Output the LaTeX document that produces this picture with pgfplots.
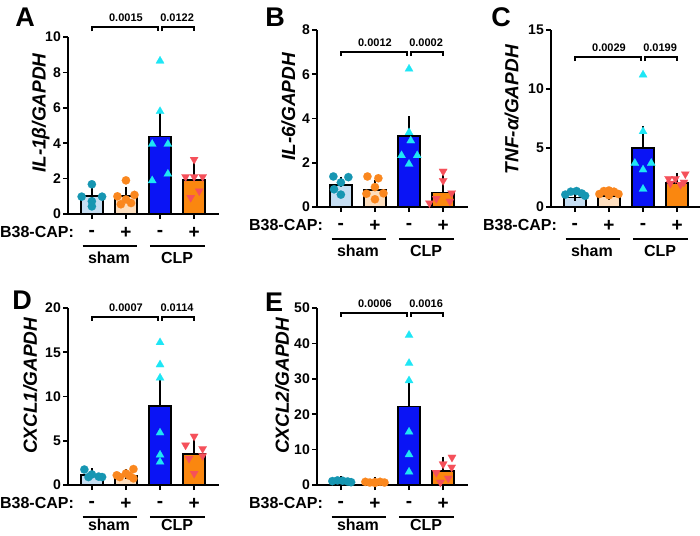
\documentclass[border=0pt]{standalone}
\usepackage{fontspec}
\setmainfont{Liberation Sans}
\usepackage{pgfplots}
\pgfplotsset{compat=1.18}
\definecolor{lblue}{RGB}{198,222,242}
\definecolor{teal}{RGB}{22,150,178}
\definecolor{peach}{RGB}{253,222,190}
\definecolor{orpt}{RGB}{250,135,30}
\definecolor{dblue}{RGB}{10,20,245}
\definecolor{cyanpt}{RGB}{30,230,245}
\definecolor{orbar}{RGB}{250,135,15}
\definecolor{redpt}{RGB}{245,80,90}
\pgfplotsset{
  panel/.style={
    scale only axis, width=151pt, height=177pt, anchor=south west,
    xmin=-0.7, xmax=3.73, ymin=0,
    axis x line*=bottom, axis y line*=left,
    axis line style={line width=1.8pt, -},
    xtick={0,1,2,3}, xticklabels={},
    tick align=outside, major tick length=5pt,
    tick style={line width=1.6pt, black},
    yticklabel style={font=\bfseries\fontsize{14}{14}\selectfont, inner sep=2pt},
    /pgf/number format/assume math mode=true,
    ylabel style={font=\bfseries\itshape\fontsize{19}{19}\selectfont, anchor=center},
    clip=false,
  },
  bst/.style={ybar, bar width=22pt, bar shift=0pt, draw=black, line width=1.8pt, fill=#1,
    error bars/.cd, y dir=plus, y explicit,
    error bar style={line width=1.6pt, black},
    error mark options={line width=1.6pt, mark size=5pt, black}},
  ptc/.style={only marks, mark=*, mark size=4.2pt, color=#1, mark options={fill=#1, draw=#1, line width=0.1pt}},
  ptu/.style={only marks, mark=triangle*, mark size=4.8pt, color=#1, mark options={fill=#1, draw=#1, line width=0.1pt}},
  ptd/.style={only marks, mark=triangle*, mark size=4.8pt, color=#1, mark options={fill=#1, draw=#1, line width=0.1pt, rotate=180}},
}
\tikzset{
  sig/.style={anchor=south, inner sep=0pt, font=\bfseries\fontsize{11}{11}\selectfont},
  lab/.style={inner sep=0pt, font=\bfseries\fontsize{16}{16}\selectfont},
  pm/.style={inner sep=0pt, font=\bfseries\fontsize{19}{19}\selectfont},
  let/.style={inner sep=0pt, font=\bfseries\fontsize{27}{27}\selectfont},
}
\newcommand\decor[4]{%
  \draw[line width=2pt] ([yshift=-4pt]axis cs:0,#1) -- (axis cs:0,#1) -- (axis cs:1.95,#1) -- ([yshift=-4pt]axis cs:1.95,#1);
  \draw[line width=2pt] ([yshift=-4pt]axis cs:2.05,#1) -- (axis cs:2.05,#1) -- (axis cs:3,#1) -- ([yshift=-4pt]axis cs:3,#1);
  \node[sig] at ([yshift=5pt]axis cs:1,#1) {#2};
  \node[sig] at ([yshift=5pt]axis cs:2.5,#1) {#3};
  \node[lab, anchor=east] at ([yshift=-18pt]axis cs:-0.52,0) {B38-CAP:};
  \node[pm] at ([yshift=-19pt]axis cs:0,0) {-};
  \node[pm] at ([yshift=-19pt]axis cs:1,0) {+};
  \node[pm] at ([yshift=-19pt]axis cs:2,0) {-};
  \node[pm] at ([yshift=-19pt]axis cs:3,0) {+};
  \draw[line width=2pt] ([yshift=-32pt]axis cs:-0.27,0) -- ([yshift=-32pt]axis cs:1.33,0);
  \draw[line width=2pt] ([yshift=-32pt]axis cs:1.7,0) -- ([yshift=-32pt]axis cs:3.32,0);
  \node[lab] at ([yshift=#4]axis cs:0.5,0) {sham};
  \node[lab] at ([yshift=#4]axis cs:2.5,0) {CLP};
}
\begin{document}
\begin{tikzpicture}
\useasboundingbox (0pt,0pt) rectangle (700pt,-535pt);
% ---------- A ----------
\begin{axis}[panel, at={(68pt,-214pt)}, ymax=10, ytick={0,2,4,6,8,10},
  ylabel={IL-1β/GAPDH}, ylabel style={at={(axis description cs:-0.18,0.57)}}]
\addplot[bst=lblue] coordinates {(0,1.0) +- (0,0.21)};
\addplot[bst=peach] coordinates {(1,1.02) +- (0,0.25)};
\addplot[bst=dblue] coordinates {(2,4.38) +- (0,1.06)};
\addplot[bst=orbar] coordinates {(3,1.9) +- (0,0.77)};
\addplot[ptc=teal] coordinates {(0,1.68) (-0.3,0.98) (0.3,0.98) (0,0.72) (0,0.43)};
\addplot[ptc=orpt] coordinates {(1,1.9) (0.75,1.0) (1.25,1.08) (1,0.82) (0.85,0.55) (1.15,0.62)};
\addplot[ptu=cyanpt] coordinates {(2,8.65) (2,5.8) (1.77,3.95) (2.23,3.95) (2.23,2.26) (1.77,1.89)};
\addplot[ptd=redpt] coordinates {(3,3.08) (2.75,2.1) (3,2.1) (3.25,2.1) (3.15,1.3) (2.9,0.93)};
\decor{10.55}{0.0015}{0.0122}{-44pt}
\end{axis}
% ---------- B ----------
\begin{axis}[panel, at={(317pt,-207pt)}, ymax=8, ytick={0,2,4,6,8},
  ylabel={IL-6/GAPDH}, ylabel style={at={(axis description cs:-0.19,0.565)}}]
\addplot[bst=lblue] coordinates {(0,1.0) +- (0,0.15)};
\addplot[bst=peach] coordinates {(1,0.78) +- (0,0.2)};
\addplot[bst=dblue] coordinates {(2,3.22) +- (0,0.65)};
\addplot[bst=orbar] coordinates {(3,0.66) +- (0,0.57)};
\addplot[ptc=teal] coordinates {(-0.22,1.38) (0.22,1.35) (0,1.11) (-0.2,0.8) (0,0.56)};
\addplot[ptc=orpt] coordinates {(0.78,1.38) (1.1,1.3) (1.0,0.9) (0.75,0.6) (1.25,0.62) (1.0,0.35)};
\addplot[ptu=cyanpt] coordinates {(2,6.24) (2,3.37) (2.05,3.0) (1.78,2.33) (2.24,2.33) (2,1.94)};
\addplot[ptd=redpt] coordinates {(3,1.61) (3,1.19) (3.25,0.63) (2.8,0.38) (2.6,0.18) (3.2,0.26)};
\decor{7.0}{0.0012}{0.0002}{-44pt}
\end{axis}
% ---------- C ----------
\begin{axis}[panel, at={(551pt,-207pt)}, ymax=15, ytick={0,5,10,15},
  ylabel={TNF-α/GAPDH}, ylabel style={at={(axis description cs:-0.26,0.55)}}]
\addplot[bst=lblue] coordinates {(0,0.8) +- (0,0.1)};
\addplot[bst=peach] coordinates {(1,0.9) +- (0,0.1)};
\addplot[bst=dblue] coordinates {(2,4.99) +- (0,1.46)};
\addplot[bst=orbar] coordinates {(3,2.05) +- (0,0.4)};
\addplot[ptc=teal] coordinates {(-0.28,1.05) (-0.12,1.3) (0.05,1.35) (0.2,1.15) (0.3,0.95)};
\addplot[ptc=orpt] coordinates {(0.72,1.1) (0.85,1.35) (1.0,1.4) (1.15,1.3) (1.28,1.1) (1.0,1.0)};
\addplot[ptu=cyanpt] coordinates {(2,11.2) (2,6.4) (1.76,3.72) (2.24,3.72) (2,3.16) (2,1.52)};
\addplot[ptd=redpt] coordinates {(3.24,2.8) (2.75,2.4) (2.95,2.4) (3.1,1.9) (2.8,2.0) (3.2,2.1)};
\decor{12.7}{0.0029}{0.0199}{-44pt}
\end{axis}
% ---------- D ----------
\begin{axis}[panel, at={(68pt,-485pt)}, ymax=20, ytick={0,5,10,15,20},
  ylabel={CXCL1/GAPDH}, ylabel style={at={(axis description cs:-0.25,0.56)}}]
\addplot[bst=lblue] coordinates {(0,1.13) +- (0,0.18)};
\addplot[bst=peach] coordinates {(1,1.05) +- (0,0.18)};
\addplot[bst=dblue] coordinates {(2,8.95) +- (0,2.45)};
\addplot[bst=orbar] coordinates {(3,3.5) +- (0,1.46)};
\addplot[ptc=teal] coordinates {(-0.22,1.75) (0,1.2) (0.2,0.95) (0.3,0.9) (-0.1,0.9)};
\addplot[ptc=orpt] coordinates {(1.22,1.8) (1,1.3) (0.73,1.1) (1.22,0.75) (0.82,0.9) (1.1,1.05)};
\addplot[ptu=cyanpt] coordinates {(2,16.1) (2,13.6) (2,12.1) (2,5.9) (2,3.4) (2,2.6)};
\addplot[ptd=redpt] coordinates {(3,5.5) (2.75,4.5) (3.25,4.1) (3.25,3.3) (2.85,3.0) (3.0,1.3)};
\decor{19.0}{0.0007}{0.0114}{-40pt}
\end{axis}
% ---------- E ----------
\begin{axis}[panel, at={(317pt,-485pt)}, ymax=50, ytick={0,10,20,30,40,50},
  ylabel={CXCL2/GAPDH}, ylabel style={at={(axis description cs:-0.23,0.56)}}]
\addplot[bst=lblue] coordinates {(0,0.95) +- (0,0.1)};
\addplot[bst=peach] coordinates {(1,0.8) +- (0,0.08)};
\addplot[bst=dblue] coordinates {(2,22.2) +- (0,6.5)};
\addplot[bst=orbar] coordinates {(3,3.9) +- (0,2.7)};
\addplot[ptc=teal] coordinates {(-0.25,1.1) (-0.1,1.3) (0.05,1.2) (0.2,1.0) (0.3,0.8)};
\addplot[ptc=orpt] coordinates {(0.72,0.9) (0.85,0.7) (1.0,0.8) (1.15,0.9) (1.28,0.7) (1.0,0.6)};
\addplot[ptu=cyanpt] coordinates {(2,42.3) (2,34.4) (2,29.5) (2,15.0) (2,8.6) (2,3.7)};
\addplot[ptd=redpt] coordinates {(3.26,7.8) (3,5.9) (3.25,5.0) (2.8,3.5) (3.15,1.9) (2.92,0.75)};
\decor{48.6}{0.0006}{0.0016}{-40pt}
\end{axis}
% ---------- letters ----------
\node[let] at (25pt,-17pt) {A};
\node[let] at (275pt,-17pt) {B};
\node[let] at (501pt,-17pt) {C};
\node[let] at (22pt,-300pt) {D};
\node[let] at (274pt,-302pt) {E};
\end{tikzpicture}
\end{document}
